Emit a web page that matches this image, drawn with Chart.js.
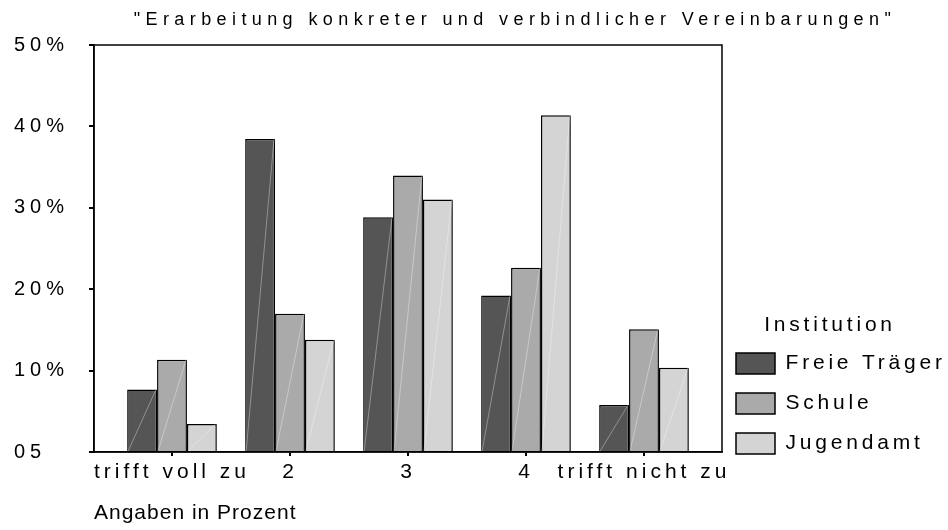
<!DOCTYPE html>
<html>
<head>
<meta charset="utf-8">
<script src="https://cdn.jsdelivr.net/npm/chart.js@4.4.1/dist/chart.umd.min.js"></script>
<style>
  html, body { margin: 0; padding: 0; background: #fff; }
  canvas { display: block; }
</style>
</head>
<body>
<canvas id="myChart" width="948" height="530"></canvas>
<script>
const categories = ['trifft voll zu', '2', '3', '4', 'trifft nicht zu'];
const freieTraeger = [7.69, 38.46, 28.85, 19.23, 5.77];
const schule = [11.32, 16.98, 33.96, 22.64, 15.09];
const jugendamt = [3.45, 13.79, 31.03, 41.38, 10.34];
const yTicks = [0, 10, 20, 30, 40, 50];
const yTickLabels = ['05', '10%', '20%', '30%', '40%', '50%'];

Chart.defaults.font.family = '"Liberation Sans", Arial, sans-serif';
Chart.defaults.color = '#000';

const points = vals => vals.map((v, i) => ({ x: i, y: v }));

// canvas letterSpacing around a draw method (the original text is widely spaced)
function spaced(obj, method, px) {
  if (!obj || obj['_sp_' + method]) return;
  const orig = obj[method];
  obj['_sp_' + method] = true;
  obj[method] = function (...args) {
    const ctx = this.ctx;
    const prev = ctx.letterSpacing;
    ctx.letterSpacing = px + 'px';
    const r = orig.apply(this, args);
    ctx.letterSpacing = prev;
    return r;
  };
}

const textStyle = {
  id: 'textStyle',
  beforeLayout(chart) {
    spaced(chart.titleBlock, 'draw', 5.4);
    spaced(chart.legend, 'draw', 3.8);
    spaced(chart.scales.y, 'drawLabels', 5);
    spaced(chart.scales.x, 'drawLabels', 4);
    spaced(chart.scales.x, 'drawTitle', 1);
    const lg = chart.legend;
    if (lg && !lg._fixedFit) {
      const fit = lg.fit;
      lg._fixedFit = true;
      lg.fit = function () { fit.call(this); this.width = 226; };
    }
  },
  afterLayout(chart) {
    const lg = chart.legend;
    const dx = 717 - lg.left, dy = 473 - lg.bottom;
    lg.left += dx; lg.right += dx;
    lg.top += dy; lg.bottom += dy;
    const t = chart.titleBlock;
    t.left += 34; t.right += 34;
  }
};

const frame = {
  id: 'frame',
  afterDatasetsDraw(chart) {
    const ctx = chart.ctx;
    ctx.save();
    ctx.strokeStyle = 'rgba(255,255,255,0.35)';
    ctx.lineWidth = 1;
    chart.data.datasets.forEach((ds, i) => {
      chart.getDatasetMeta(i).data.forEach(bar => {
        const p = bar.getProps(['x', 'y', 'base', 'width'], true);
        ctx.beginPath();
        ctx.moveTo(p.x - p.width / 2 + 1, p.base);
        ctx.lineTo(p.x + p.width / 2 - 1, p.y);
        ctx.stroke();
      });
    });
    const a = chart.chartArea;
    ctx.strokeStyle = '#000';
    ctx.lineWidth = 1.5;
    ctx.strokeRect(a.left, a.top, a.right - a.left, a.bottom - a.top);
    ctx.restore();
  }
};

const ctx = document.getElementById('myChart').getContext('2d');

new Chart(ctx, {
  type: 'bar',
  data: {
    datasets: [
      { label: 'Freie Träger', data: points(freieTraeger), backgroundColor: '#555555', borderColor: '#000', borderWidth: 1.5 },
      { label: 'Schule', data: points(schule), backgroundColor: '#aaaaaa', borderColor: '#000', borderWidth: 1.5 },
      { label: 'Jugendamt', data: points(jugendamt), backgroundColor: '#d4d4d4', borderColor: '#000', borderWidth: 1.5 }
    ]
  },
  options: {
    responsive: false,
    animation: false,
    categoryPercentage: 0.76,
    barPercentage: 1,
    layout: { padding: { left: 14, right: 0, top: 0, bottom: 0 } },
    plugins: {
      title: {
        display: true,
        text: '"Erarbeitung konkreter und verbindlicher Vereinbarungen"',
        font: { size: 18, weight: 'normal' },
        color: '#000',
        padding: { top: 9.6, bottom: 13.8 }
      },
      legend: {
        position: 'right',
        align: 'end',
        labels: {
          boxWidth: 39,
          boxHeight: 21,
          padding: 19,
          font: { size: 21 },
          color: '#000'
        },
        title: {
          display: true,
          text: 'Institution',
          font: { size: 21 },
          color: '#000',
          padding: { top: 0, bottom: -6 }
        }
      },
      tooltip: { enabled: false }
    },
    scales: {
      x: {
        type: 'linear',
        offset: false,
        min: -0.661,
        max: 4.661,
        afterBuildTicks: s => { s.ticks = categories.map((c, i) => ({ value: i })); },
        afterFit: s => { s.height = 78; },
        ticks: {
          autoSkip: false,
          maxRotation: 0,
          padding: 4,
          font: { size: 21 },
          color: '#000',
          callback: v => categories[v]
        },
        grid: { offset: false, drawOnChartArea: false, tickLength: 4, tickColor: '#000', lineWidth: 2 },
        border: { display: true, color: '#000', width: 1.5 },
        title: {
          display: true,
          text: 'Angaben in Prozent',
          align: 'start',
          font: { size: 21 },
          color: '#000',
          padding: { top: 0, bottom: 4 }
        }
      },
      y: {
        min: 0,
        max: 50,
        afterBuildTicks: s => { s.ticks = yTicks.map(v => ({ value: v })); },
        afterFit: s => { s.width = 80; },
        ticks: {
          crossAlign: 'far',
          font: { size: 20 },
          color: '#000',
          callback: v => yTickLabels[yTicks.indexOf(v)]
        },
        grid: { drawOnChartArea: false, tickLength: 5, tickColor: '#000', lineWidth: 2 },
        border: { display: true, color: '#000', width: 1.5 }
      }
    }
  },
  plugins: [textStyle, frame]
});
</script>
</body>
</html>
